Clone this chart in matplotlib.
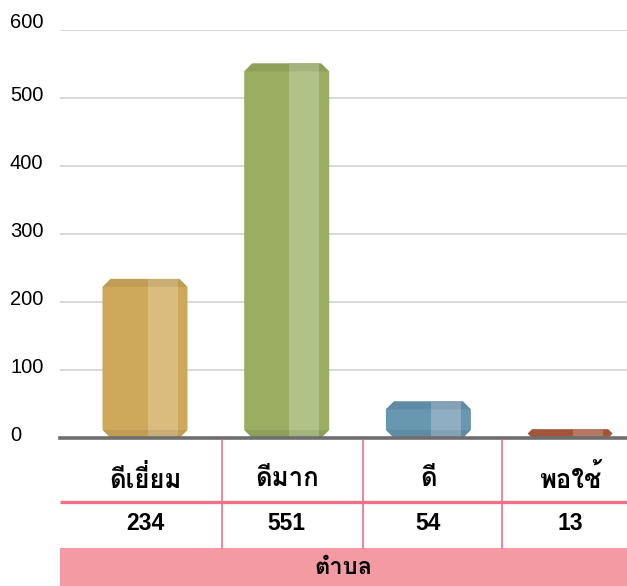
import matplotlib
matplotlib.use('Agg')
import matplotlib.pyplot as plt
import matplotlib.transforms as mtransforms
from matplotlib.patches import Polygon, Rectangle
from matplotlib import font_manager
from matplotlib.ft2font import FT2Font

categories = ['ดีเยี่ยม', 'ดีมาก', 'ดี', 'พอใช้']
values = [234, 551, 54, 13]
axis_title = 'ตำบล'
y_ticks = [0, 100, 200, 300, 400, 500, 600]

base_colors = ['#CFA95B', '#9AAD61', '#6797B1', '#AE5C3E']
light_colors = ['#DBBC7F', '#B0C287', '#8FAEC3', '#C4826A']


def find_thai_font():
    # look for any installed font that has Thai glyphs
    for f in font_manager.fontManager.ttflist:
        try:
            cmap = FT2Font(f.fname).get_charmap()
        except Exception:
            continue
        if 0x0E14 in cmap and 0x0E21 in cmap:
            return f.name
    return 'DejaVu Sans'


thai_font = find_thai_font()
plt.rcParams['font.family'] = [thai_font, 'Liberation Sans', 'DejaVu Sans']

W, H = 627, 586
fig = plt.figure(figsize=(W / 100, H / 100), dpi=100)
ax = fig.add_axes([60 / W, 1 - 438 / H, 567 / W, 408 / H])
tax = fig.add_axes([60 / W, 0, 567 / W, 148 / H])

px_per_x = 141.7
xlim = (-85 / px_per_x, 482 / px_per_x)
ax.set_xlim(*xlim)
ax.set_ylim(0, 600)
px_per_y = 408 / 600

# gridlines + baseline
for t in y_ticks[1:]:
    ax.axhline(t, color='#d2d2d2', lw=1.2, zorder=0)
ax.axhline(0, color='#6e6e6e', lw=2.6, zorder=5, clip_on=False)

label_tr = mtransforms.blended_transform_factory(fig.transFigure, ax.transData)
for t in y_ticks:
    off = 11 if t == 600 else 3
    ax.text(10 / W, t + off, str(t), transform=label_tr, ha='left', va='center',
            fontsize=14.5, family=['Liberation Sans'], clip_on=False)

bw = 85 / px_per_x
for i, v in enumerate(values):
    left, right = i - bw / 2, i + bw / 2
    split = left + 0.53 * bw
    strip = right - 10 / px_per_x
    h_px = v * px_per_y
    c_px = min(8, h_px / 2)
    cy = c_px / px_per_y
    cx = c_px / px_per_x
    # whole octagon in base colour
    body = [(left + cx, 0), (right - cx, 0), (right, cy), (right, v - cy),
            (right - cx, v), (left + cx, v), (left, v - cy), (left, cy)]
    ax.add_patch(Polygon(body, closed=True, fc=base_colors[i], ec='none', zorder=2))
    # lighter right face
    face = [(split, 0), (min(strip, right - cx), 0), (strip, cy), (strip, v - cy),
            (min(strip, right - cx), v), (split, v)]
    ax.add_patch(Polygon(face, closed=True, fc=light_colors[i], ec='none', zorder=3))
    # darker top and bottom bands
    top = [(left, v - cy), (right, v - cy), (right - cx, v), (left + cx, v)]
    bot = [(left, cy), (right, cy), (right - cx, 0), (left + cx, 0)]
    for band in (top, bot):
        ax.add_patch(Polygon(band, closed=True, fc='black', alpha=0.07, ec='none', zorder=4))

ax.set_xticks([])
ax.set_yticks([])
for s in ax.spines.values():
    s.set_visible(False)

# table under the chart
tax.set_xlim(*xlim)
tax.set_ylim(586, 438)
tax.axis('off')
pink_line = '#EE7188'
tax.add_patch(Rectangle((xlim[0], 548), xlim[1] - xlim[0], 38, fc='#F49AA2', ec='none'))
tax.plot(list(xlim), [502, 502], color=pink_line, lw=2.4, solid_capstyle='butt')
for d in [0.54, 1.54, 2.52]:
    tax.plot([d, d], [440, 548], color=pink_line, lw=1.2)
for i, (c, v) in enumerate(zip(categories, values)):
    tax.text(i, 479, c, ha='center', va='center', fontsize=18.5, fontweight='bold')
    tax.text(i, 523, str(v), ha='center', va='center', fontsize=16.5, fontweight='bold',
             family=['Liberation Sans'])
tax.text(sum(xlim) / 2, 568, axis_title, ha='center', va='center', fontsize=17,
         fontweight='bold')

fig.savefig('out.png', dpi=100)
